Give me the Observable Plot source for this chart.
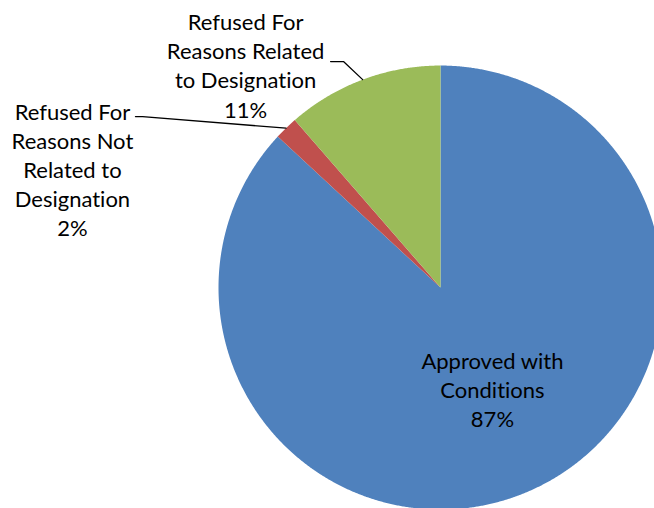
<!DOCTYPE html>
<html>
<head>
<meta charset="utf-8">
<script src="https://cdn.jsdelivr.net/npm/d3@7"></script>
<script src="https://cdn.jsdelivr.net/npm/@observablehq/plot@0.6"></script>
<style>
  html, body { margin: 0; padding: 0; background: #fff; overflow: hidden; }
  #chart svg { display: block; }
  #chart text { font-variant-ligatures: none; font-feature-settings: "liga" 0; }
</style>
</head>
<body>
<div id="chart"></div>
<script>
// ---- data ----
const categories = [
  "Approved with Conditions",
  "Refused For Reasons Not Related to Designation",
  "Refused For Reasons Related to Designation"
];
const shares = [86.9, 1.7, 11.4];
const labelText = [
  "Approved with\nConditions\n87%",
  "Refused For\nReasons Not\nRelated to\nDesignation\n2%",
  "Refused For\nReasons Related\nto Designation\n11%"
];
const colors = ["#4F81BD", "#C0504D", "#9BBB59"];

// ---- layout (data units: pie radius = 1) ----
const labelPos = [[0.234, -0.457], [-1.658, 0.534], [-0.878, 1.004]];
const leaderElbow = [null, [[-1.374, 0.770], [-1.342, 0.770]], [[-0.495, 1.018], [-0.437, 1.018]]];

const rows = categories.map((c, i) => ({name: c, value: shares[i], label: labelText[i], i}));
const arcs = d3.pie().sort(null).value(d => d.value)(rows);

// slice polygons
const slicePts = [];
arcs.forEach(a => {
  const name = a.data.name;
  slicePts.push({name, x: 0, y: 0});
  const n = Math.max(4, Math.ceil((a.endAngle - a.startAngle) / 0.005));
  for (let k = 0; k <= n; k++) {
    const t = a.startAngle + (a.endAngle - a.startAngle) * k / n;
    slicePts.push({name, x: Math.sin(t), y: Math.cos(t)});
  }
  slicePts.push({name, x: 0, y: 0});
});

// leader lines
const leaderPts = [];
arcs.forEach((a, i) => {
  if (!leaderElbow[i]) return;
  const mid = (a.startAngle + a.endAngle) / 2;
  leaderElbow[i].forEach(p => leaderPts.push({name: a.data.name, x: p[0], y: p[1]}));
  leaderPts.push({name: a.data.name, x: Math.sin(mid), y: Math.cos(mid)});
});

const labels = rows.map((r, i) => ({label: r.label, x: labelPos[i][0], y: labelPos[i][1]}));

const plot = Plot.plot({
  width: 654,
  height: 508,
  margin: 0,
  x: {domain: [-1.982, 0.964], axis: null},
  y: {domain: [-0.995, 1.293], axis: null},
  color: {domain: categories, range: colors},
  style: {fontFamily: "Lato, 'Open Sans', sans-serif", background: "#fff", overflow: "hidden"},
  marks: [
    Plot.line(slicePts, {x: "x", y: "y", z: "name", fill: "name", stroke: "none", curve: "linear"}),
    Plot.line(leaderPts, {x: "x", y: "y", z: "name", stroke: "#000", strokeWidth: 1.3, curve: "linear"}),
    Plot.text(labels, {x: "x", y: "y", text: "label", fontSize: 22, lineHeight: 1.32, fill: "#000", textAnchor: "middle", lineAnchor: "middle"})
  ]
});
document.getElementById("chart").appendChild(plot);
</script>
</body>
</html>
